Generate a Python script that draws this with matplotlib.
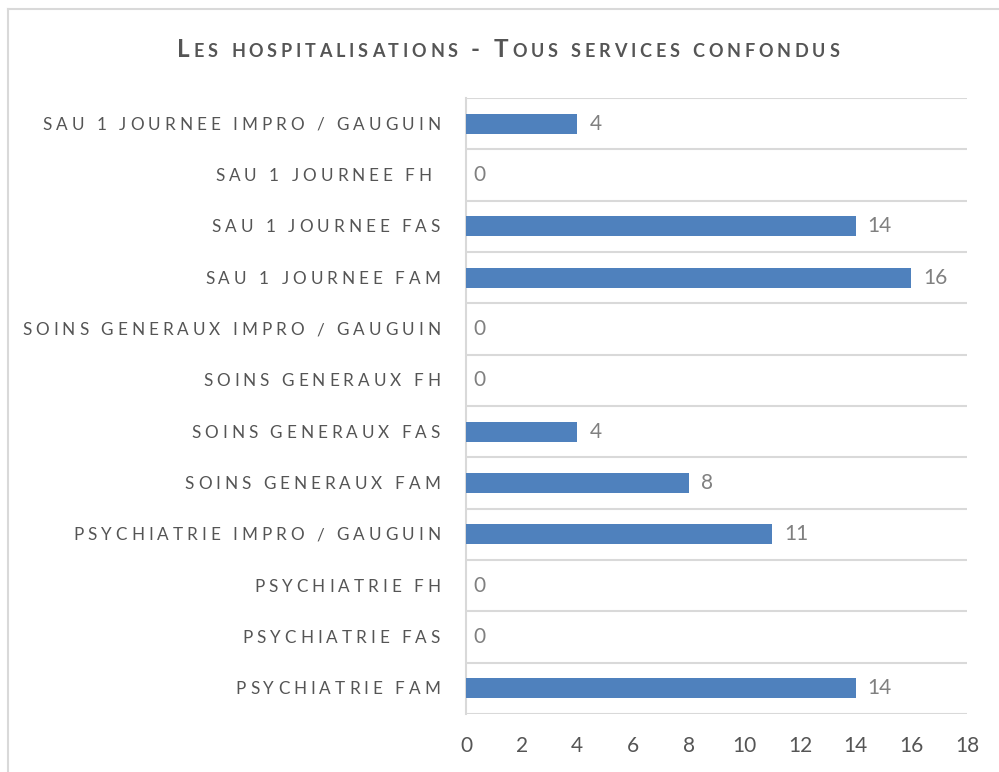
import numpy as np
import matplotlib
matplotlib.use("Agg")
import matplotlib.pyplot as plt
from matplotlib.lines import Line2D
from matplotlib.font_manager import FontProperties, findfont
from matplotlib.ft2font import FT2Font

try:
    from matplotlib.ft2font import LoadFlags
    NO_HINT = LoadFlags.NO_HINTING
except ImportError:  # older matplotlib
    from matplotlib.ft2font import LOAD_NO_HINTING as NO_HINT

# ---- data -----------------------------------------------------------------
title = "Les hospitalisations - Tous services confondus"
categories = [
    "SAU 1 JOURNEE IMPRO / GAUGUIN",
    "SAU 1 JOURNEE FH ",
    "SAU 1 JOURNEE FAS",
    "SAU 1 JOURNEE FAM",
    "SOINS GENERAUX IMPRO / GAUGUIN",
    "SOINS GENERAUX FH",
    "SOINS GENERAUX FAS",
    "SOINS GENERAUX FAM",
    "PSYCHIATRIE IMPRO / GAUGUIN",
    "PSYCHIATRIE FH",
    "PSYCHIATRIE FAS",
    "PSYCHIATRIE FAM",
]
values = [4, 0, 14, 16, 0, 0, 4, 8, 11, 0, 0, 14]
x_ticks = [0, 2, 4, 6, 8, 10, 12, 14, 16, 18]

# ---- style ----------------------------------------------------------------
W, H, DPI = 999, 772, 100
FONT = "Lato"
CAP = 0.7165                     # cap height / em for Lato
BAR_COLOR = "#4F81BD"
GRID_COLOR = "#D9D9D9"
TEXT_COLOR = "#555555"
VALUE_COLOR = "#808080"

plt.rcParams["font.family"] = [FONT, "DejaVu Sans"]

_fonts = {}


def advance(ch, size_pt, weight="normal"):
    """Horizontal advance of one glyph, in pixels."""
    key = weight
    if key not in _fonts:
        path = findfont(FontProperties(family=FONT, weight=weight))
        _fonts[key] = FT2Font(path)
    font = _fonts[key]
    font.set_size(size_pt, DPI)
    g = font.load_char(ord(ch), flags=NO_HINT)
    return g.linearHoriAdvance / 65536.0


def tracked_width(parts, tracking):
    return sum(advance(c, s, w) + tracking for c, s, w in parts) - tracking


# ---- figure / axes ----------------------------------------------------------
fig = plt.figure(figsize=(W / DPI, H / DPI), dpi=DPI)
fig.patch.set_facecolor("white")

ax_left, ax_right, ax_top, ax_bottom = 466, 967, 98, 714
ax = fig.add_axes([ax_left / W, 1 - ax_bottom / H,
                   (ax_right - ax_left) / W, (ax_bottom - ax_top) / H])

n = len(categories)
ypos = np.arange(n)
ax.barh(ypos, values, height=0.39, color=BAR_COLOR, zorder=3)

ax.set_xlim(0, 18)
ax.set_ylim(n - 0.5, -0.5)
ax.set_xticks(x_ticks)
ax.set_xticklabels([str(t) for t in x_ticks], fontsize=15, color=TEXT_COLOR)
ax.tick_params(axis="x", length=0, pad=16)
ax.set_yticks([])
ax.set_yticks(np.arange(-0.5, n, 1), minor=True)
ax.tick_params(axis="y", which="both", length=0, labelleft=False)
ax.grid(which="minor", axis="y", color=GRID_COLOR, linewidth=1.5, zorder=0)
for side in ("top", "right", "bottom"):
    ax.spines[side].set_visible(False)
ax.spines["left"].set_color(GRID_COLOR)
ax.spines["left"].set_linewidth(1.5)
ax.set_facecolor("white")

# value labels
for y, v in zip(ypos, values):
    ax.annotate(str(v), xy=(v, y), xytext=(12 if v else 7, 0),
                textcoords="offset pixels", ha="left", va="center",
                fontsize=15, color=VALUE_COLOR)

# category labels, letter-spaced, right-aligned against the axis
LABEL_PT = 12.3
LABEL_TRACK = 4.0
cap_px = CAP * LABEL_PT * DPI / 72
ytrans = ax.get_yaxis_transform()
for y, lab in zip(ypos, categories):
    parts = [(c, LABEL_PT, "normal") for c in lab]
    total = tracked_width(parts, LABEL_TRACK)
    x = -26 - total
    for c, s, w in parts:
        if c != " ":
            ax.annotate(c, xy=(0, y), xycoords=ytrans,
                        xytext=(x, -cap_px / 2), textcoords="offset pixels",
                        ha="left", va="baseline", fontsize=s,
                        color=TEXT_COLOR, annotation_clip=False)
        x += advance(c, s, w) + LABEL_TRACK

# title in small caps
BIG_PT, SMALL_PT = 17.5, 13.0
TITLE_TRACK = 3.8
parts = []
for c in title:
    if c.isupper() or not c.isalpha():
        parts.append((c.upper(), BIG_PT, "bold"))
    else:
        parts.append((c.upper(), SMALL_PT, "bold"))
total = tracked_width(parts, TITLE_TRACK)
x = 508 - total / 2
baseline = 57
for c, s, w in parts:
    if c != " ":
        fig.text(x / W, 1 - baseline / H, c, ha="left", va="baseline",
                 fontsize=s, fontweight="bold", color=TEXT_COLOR)
    x += advance(c, s, w) + TITLE_TRACK

# chart frame (top and left edges)
fig.add_artist(Line2D([8 / W, 998 / W], [1 - 9 / H, 1 - 9 / H],
                      transform=fig.transFigure, color=GRID_COLOR, linewidth=1.5))
fig.add_artist(Line2D([8 / W, 8 / W], [1 - 9 / H, 0],
                      transform=fig.transFigure, color=GRID_COLOR, linewidth=1.5))

fig.savefig("out.png", dpi=DPI, facecolor="white")
